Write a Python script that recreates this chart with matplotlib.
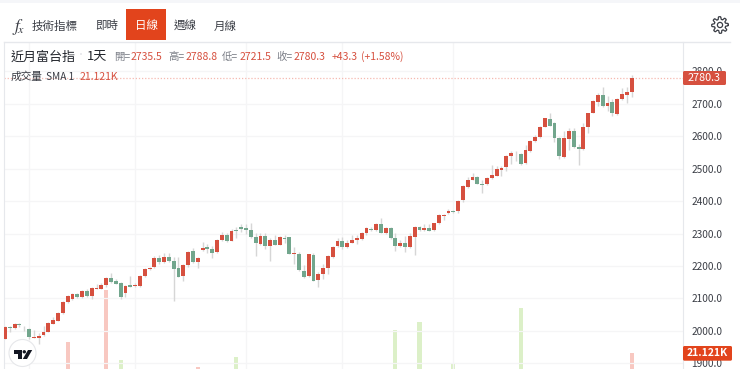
import numpy as np
import matplotlib
matplotlib.use("Agg")
import matplotlib.pyplot as plt
from matplotlib.patches import Rectangle, FancyBboxPatch, Circle, Polygon

plt.rcParams["font.family"] = ["Noto Sans CJK TC", "DejaVu Sans"]

UP, DOWN, WICK = "#d6503f", "#72a68d", "#d6d6d6"
TEXT, GRID, BORDER = "#3a3d45", "#f5f5f6", "#e6e8ec"
ACCENT = "#e2441c"

opens = [1976, 2012, 2007, 2021, 2004, 2005, 1979, 1979, 1986, 1997, 2022, 2031, 2055, 2089, 2098, 2113,
         2103, 2123, 2107, 2129, 2130, 2141, 2162, 2152, 2146, 2116, 2140, 2137, 2139, 2169, 2191, 2196,
         2225, 2211, 2229, 2215, 2193, 2169, 2202, 2245, 2213, 2249, 2259, 2253, 2244, 2280, 2295, 2278,
         2311, 2319, 2318, 2312, 2289, 2268, 2293, 2260, 2280, 2266, 2286, 2288, 2238, 2238, 2185, 2169,
         2234, 2156, 2175, 2194, 2227, 2262, 2276, 2258, 2272, 2279, 2282, 2301, 2315, 2311, 2330, 2302,
         2317, 2287, 2260, 2270, 2258, 2290, 2320, 2311, 2317, 2310, 2331, 2353, 2363, 2369, 2368, 2402,
         2445, 2466, 2474, 2453, 2452, 2470, 2479, 2496, 2504, 2539, 2547, 2546, 2517, 2556, 2585, 2598,
         2630, 2654, 2641, 2594, 2536, 2593, 2616, 2568, 2561, 2630, 2673, 2707, 2729, 2692, 2705, 2668,
         2715, 2728, 2735.5]
highs = [2015, 2015, 2025, 2025, 2015, 2007, 2002, 1994, 2015, 2028, 2041, 2059, 2093, 2110, 2116, 2118,
         2126, 2128, 2134, 2144, 2146, 2165, 2177, 2159, 2149, 2141, 2169, 2146, 2173, 2193, 2198, 2231,
         2234, 2241, 2241, 2227, 2229, 2206, 2247, 2254, 2229, 2275, 2268, 2260, 2282, 2306, 2303, 2313,
         2319, 2330, 2330, 2334, 2301, 2301, 2301, 2285, 2297, 2293, 2296, 2290, 2258, 2243, 2202, 2238,
         2239, 2181, 2206, 2234, 2262, 2285, 2288, 2280, 2297, 2296, 2305, 2321, 2321, 2332, 2348, 2321,
         2321, 2301, 2280, 2293, 2301, 2323, 2323, 2330, 2330, 2334, 2360, 2360, 2375, 2373, 2404, 2450,
         2474, 2486, 2478, 2465, 2474, 2511, 2509, 2509, 2542, 2555, 2555, 2550, 2573, 2589, 2603, 2632,
         2658, 2671, 2644, 2597, 2615, 2625, 2626, 2577, 2640, 2673, 2712, 2735, 2752, 2725, 2714, 2717,
         2750, 2752, 2788.8]
lows = [1974, 1997, 2004, 2011, 2000, 1974, 1977, 1958, 1984, 1995, 2020, 2029, 2052, 2087, 2095, 2100,
        2101, 2105, 2097, 2128, 2128, 2134, 2148, 2144, 2097, 2105, 2134, 2134, 2136, 2167, 2188, 2193,
        2206, 2208, 2212, 2093, 2165, 2152, 2198, 2208, 2193, 2247, 2239, 2223, 2239, 2278, 2275, 2276,
        2285, 2306, 2299, 2286, 2231, 2266, 2251, 2216, 2264, 2264, 2270, 2236, 2206, 2183, 2163, 2167,
        2152, 2136, 2161, 2175, 2224, 2258, 2253, 2255, 2270, 2268, 2280, 2297, 2307, 2307, 2301, 2299,
        2282, 2247, 2258, 2243, 2255, 2235, 2309, 2307, 2307, 2307, 2329, 2342, 2360, 2362, 2364, 2398,
        2442, 2464, 2452, 2426, 2450, 2467, 2477, 2478, 2494, 2515, 2524, 2511, 2515, 2553, 2581, 2594,
        2628, 2631, 2581, 2529, 2533, 2558, 2565, 2511, 2559, 2611, 2671, 2692, 2690, 2677, 2663, 2665,
        2713, 2704, 2721.5]
closes = [2013, 2009, 2022, 2017, 2005, 1980, 1982, 1985, 1996, 2023, 2032, 2056, 2090, 2107, 2113, 2103,
          2123, 2107, 2131, 2132, 2141, 2162, 2151, 2145, 2105, 2139, 2136, 2140, 2170, 2191, 2194, 2225,
          2213, 2229, 2216, 2191, 2167, 2202, 2243, 2212, 2225, 2256, 2253, 2241, 2280, 2295, 2278, 2309,
          2308, 2315, 2311, 2288, 2270, 2293, 2260, 2280, 2266, 2288, 2284, 2238, 2240, 2186, 2165, 2236,
          2155, 2175, 2194, 2231, 2258, 2276, 2257, 2272, 2280, 2285, 2301, 2317, 2312, 2328, 2303, 2317,
          2285, 2263, 2270, 2257, 2291, 2320, 2311, 2318, 2309, 2331, 2357, 2356, 2371, 2366, 2400, 2446,
          2466, 2474, 2454, 2451, 2472, 2480, 2499, 2503, 2538, 2549, 2549, 2516, 2558, 2586, 2599, 2629,
          2656, 2633, 2595, 2539, 2594, 2615, 2567, 2561, 2630, 2671, 2708, 2728, 2692, 2703, 2673, 2715,
          2731, 2737, 2780.3]

vol_index = [13, 21, 24, 40, 48, 81, 86, 93, 107, 130]
vol_values = [23.5, 34.8, 19.6, 18.1, 20.2, 26.1, 27.9, 18.9, 30.9, 21.121]
vol_up = [True, True, False, True, False, False, False, False, False, True]

price_ticks = [1900, 2000, 2100, 2200, 2300, 2400, 2500, 2600, 2700, 2800]
month_starts = [5, 27, 50, 70, 93]

fig = plt.figure(figsize=(7.4, 3.69), dpi=100, facecolor="white")
W, H = 740, 369
box = [4 / W, 0, (683 - 4) / W, (H - 42) / H]
xlim = (-0.2, 140.66)

# volume sits behind the candles, only the tops of the tallest bars show
vax = fig.add_axes(box, zorder=1)
vax.bar(vol_index, vol_values, width=0.85,
        color=["#f8c8c1" if u else "#dcf0c8" for u in vol_up])
vax.set_xlim(xlim)
vax.set_ylim(17.6, 88.8)
vax.axis("off")

ax = fig.add_axes(box, zorder=2)
ax.patch.set_visible(False)
x = np.arange(len(opens))
o, h, l, c = map(np.array, (opens, highs, lows, closes))
ax.vlines(x, l, h, color=WICK, lw=1, zorder=2)
colors = [UP if b >= a else DOWN for a, b in zip(o, c)]
ax.bar(x, np.maximum(np.abs(c - o), 2.5), bottom=np.minimum(o, c), width=0.8, color=colors, zorder=3)
ax.axhline(closes[-1], color="#f6b9b0", lw=0.9, ls=(0, (1, 1.5)), zorder=1)

ax.set_xlim(xlim)
ax.set_ylim(1882, 2891)
ax.set_xticks(month_starts)
ax.set_yticks(price_ticks)
ax.set_yticklabels([f"{t:.1f}" for t in price_ticks])
ax.yaxis.tick_right()
ax.tick_params(axis="x", length=0, labelbottom=False)
ax.tick_params(axis="y", length=0, pad=6.2, labelsize=7.3, labelcolor=TEXT)
ax.grid(color=GRID, lw=0.9)
ax.set_axisbelow(True)
for side in ("top", "bottom"):
    ax.spines[side].set_visible(False)
for side in ("left", "right"):
    ax.spines[side].set_color(BORDER)

# toolbar, header and price tags in pixel coordinates
ui = fig.add_axes([0, 0, 1, 1], zorder=3)
ui.set_xlim(0, W)
ui.set_ylim(H, 0)
ui.axis("off")


def label(px, py, s, size=7.5, color=TEXT, ha="left", **kw):
    ui.text(px, py, s, fontsize=size, color=color, ha=ha, va="center", **kw)


ui.add_patch(Rectangle((0, 0), W, 3, color="#f5f6f9", lw=0))
ui.plot([4, 730], [41.5, 41.5], color=BORDER, lw=1)

ui.text(18.5, 27, r"$f_{\!x}$", fontsize=12.5, color=TEXT, ha="center", va="center",
        math_fontfamily="stix")
label(32, 26, "技術指標", size=8.3)
label(95, 26, "即時", size=8.3)
ui.add_patch(Rectangle((126, 9), 40, 31, color=ACCENT, lw=0))
label(135, 26, "日線", size=8.3, color="white")
label(174, 26, "週線", size=8.3)
label(214, 26, "月線", size=8.3)

# settings gear
ang = np.linspace(0, 2 * np.pi, 97)
rad = 7 + 1.3 * np.clip(2.2 * np.cos(8 * ang + np.pi / 8), -1, 1)
ui.plot(720 + rad * np.cos(ang), 25 + rad * np.sin(ang), color=TEXT, lw=0.9)
ui.add_patch(Circle((720, 25), 2.6, fill=False, ec=TEXT, lw=0.9))

label(11, 57, "近月富台指", size=9.4, color="#23262d")
ui.add_patch(Circle((81, 54), 0.6, color="#b9bcc4", lw=0))
label(87, 57, "1天", size=9.4, color="#23262d")
for px, s in [(114, "開="), (168.3, "高="), (222.3, "低="), (276.7, "收=")]:
    label(px, 57, s, color="#7b7e87")
for px, s in [(130.7, "2735.5"), (185.3, "2788.8"), (239.7, "2721.5"), (293.7, "2780.3"),
              (331.3, "+43.3"), (361.3, "(+1.58%)")]:
    label(px, 57, s, color=UP)
label(11, 77, "成交量", size=7.7)
label(46, 77, "SMA 1", size=7.3)
label(80, 77, "21.121K", color=UP)

ui.add_patch(FancyBboxPatch((683, 71), 43, 14, boxstyle="round,pad=0,rounding_size=1.5",
                            fc=UP, ec="none"))
label(704.5, 78, "2780.3", size=7.8, color="white", ha="center")
ui.add_patch(FancyBboxPatch((683, 346), 49, 14.7, boxstyle="round,pad=0,rounding_size=1.5",
                            fc=ACCENT, ec="none"))
label(707.5, 353.3, "21.121K", size=7.5, color="white", ha="center", fontweight="bold")

# TradingView badge
ui.add_patch(Circle((22.5, 353), 13.5, fc="white", ec="#e6e7ea", lw=0.8))
logo = "#131722"
ui.add_patch(Polygon([(14, 350), (22, 350), (22, 359), (18, 359), (18, 353.5), (14, 353.5)], color=logo, lw=0))
ui.add_patch(Circle((24.3, 351.8), 1.7, color=logo, lw=0))
ui.add_patch(Polygon([(28, 350), (32.2, 350), (27, 359), (22.8, 359)], color=logo, lw=0))

fig.savefig("out.png", dpi=100, facecolor="white")
